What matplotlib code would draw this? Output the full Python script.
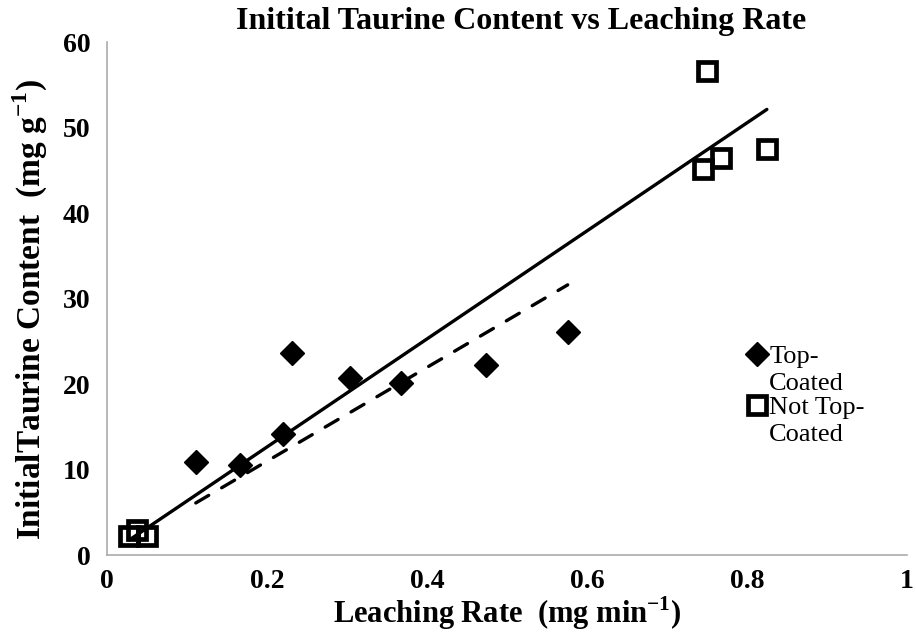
import numpy as np
import matplotlib.pyplot as plt
from matplotlib.legend_handler import HandlerLine2D

plt.rcParams['font.family'] = ['Liberation Serif', 'DejaVu Serif']
plt.rcParams['mathtext.fontset'] = 'custom'
plt.rcParams['mathtext.rm'] = 'Liberation Serif'
plt.rcParams['mathtext.bf'] = 'Liberation Serif:bold'

# Top-coated samples
top_rate = [0.111, 0.166, 0.220, 0.231, 0.304, 0.367, 0.474, 0.576]
top_content = [10.9, 10.5, 14.2, 23.6, 20.7, 20.1, 22.2, 26.1]

# Not top-coated samples
not_rate = [0.028, 0.038, 0.050, 0.745, 0.750, 0.768, 0.825]
not_content = [2.2, 2.9, 2.2, 45.1, 56.6, 46.4, 47.5]

x_ticks = [0, 0.2, 0.4, 0.6, 0.8, 1]
x_labels = ['0', '0.2', '0.4', '0.6', '0.8', '1']
y_ticks = [0, 10, 20, 30, 40, 50, 60]

LEG_SIZE = 19
LEG_SPACING = 1.26


def origin_fit(x, y):
    # linear trendline forced through zero
    x = np.asarray(x)
    y = np.asarray(y)
    k = np.sum(x * y) / np.sum(x * x)
    xs = np.array([x.min(), x.max()])
    return xs, k * xs


class FirstLineHandler(HandlerLine2D):
    # put the legend marker next to the first line of a two-line label
    def create_artists(self, legend, orig_handle, xdescent, ydescent,
                       width, height, fontsize, trans):
        arts = super().create_artists(legend, orig_handle, xdescent, ydescent,
                                      width, height, fontsize, trans)
        for a in arts:
            a.set_ydata(np.asarray(a.get_ydata()) + fontsize * 0.59)
        return arts


fig = plt.figure(figsize=(9.16, 6.32), dpi=100)
ax = fig.add_axes([0.1168, 0.1218, 0.8732, 0.8117])

h1, = ax.plot(top_rate, top_content, 'D', color='black', markersize=12,
              linestyle='none', zorder=2)
h2, = ax.plot(not_rate, not_content, 's', color='black', markersize=13.5,
              markeredgewidth=3.4, markerfacecolor='none', linestyle='none', zorder=2)

xs, ys = origin_fit(not_rate, not_content)
ax.plot(xs, ys, color='black', linewidth=2.4, solid_capstyle='round', zorder=3)
xs, ys = origin_fit(top_rate, top_content)
ax.plot(xs, ys, color='black', linewidth=2.4, linestyle=(0, (4.5, 4.5)),
        dash_capstyle='round', zorder=3)

ax.set_xlim(0, 1)
ax.set_ylim(0, 60)
ax.set_xticks(x_ticks)
ax.set_xticklabels(x_labels)
ax.set_yticks(y_ticks)
ax.tick_params(length=0, labelsize=20)
ax.tick_params(axis='x', pad=10)
ax.tick_params(axis='y', pad=12)
for lab in ax.get_xticklabels() + ax.get_yticklabels():
    lab.set_fontweight('bold')

for side in ['top', 'right']:
    ax.spines[side].set_visible(False)
for side in ['left', 'bottom']:
    ax.spines[side].set_color('#ABABAB')
    ax.spines[side].set_linewidth(1.2)

ax.set_xlabel('Leaching Rate  (mg min$^{\\mathbf{-1}}$)', fontsize=22, fontweight='bold')
ax.xaxis.label.set_va('baseline')
ax.xaxis.set_label_coords(0.5, -0.133)
ax.set_ylabel('InitialTaurine Content  (mg g$^{\\mathbf{-1}}$)', fontsize=24,
              fontweight='bold')
ax.yaxis.label.set_va('center')
ax.yaxis.set_label_coords(-0.096, 0.478)

fig.text(0.569, 0.966, 'Initital Taurine Content vs Leaching Rate', fontsize=23,
         fontweight='bold', ha='center', va='center')

handler = FirstLineHandler()
leg = ax.legend([h1, h2], ['Top-\nCoated', 'Not Top-\nCoated'],
                handler_map={h1: handler, h2: handler},
                loc='upper left', bbox_to_anchor=(0.818, 0.452),
                bbox_transform=fig.transFigure, frameon=False, fontsize=LEG_SIZE,
                handlelength=0.6, handletextpad=0.15, labelspacing=0.1,
                borderaxespad=0, borderpad=0)
for t in leg.get_texts():
    t.set_linespacing(LEG_SPACING)

fig.savefig('out.png', dpi=100)
